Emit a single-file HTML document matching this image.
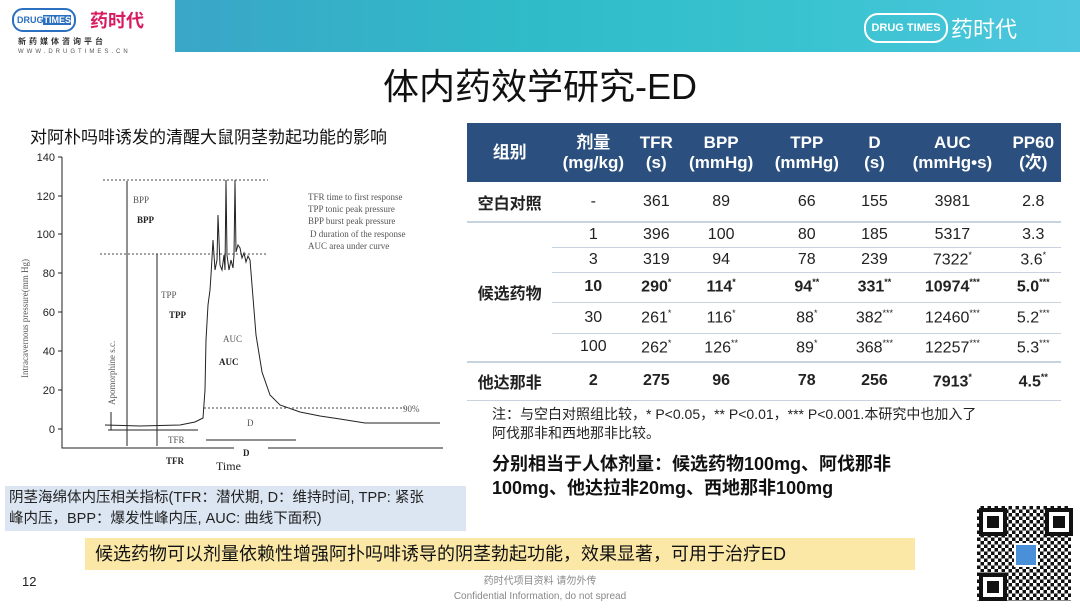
<!DOCTYPE html>
<html><head><meta charset="utf-8"><style>
body{margin:0;width:1080px;height:608px;overflow:hidden;background:#fff;font-family:"Liberation Sans","Noto Sans CJK SC",sans-serif;position:relative}
.a{position:absolute}
table{border-collapse:collapse;position:absolute;left:467px;top:123px;width:594px;font-size:16px;color:#222}
td,th{text-align:center;padding:0}
th{background:#2b4f7e;color:#fff;font-weight:bold;font-size:17px;line-height:20px;height:59px}
sup{font-size:9px}
.b td{font-weight:bold}
</style></head><body>
<div class="a" style="left:175px;top:0;width:905px;height:52px;background:linear-gradient(90deg,#3aa6c8,#2fbcc8 40%,#39c3d0 70%,#4ec6de)"></div>
<div class="a" style="left:12px;top:8px;width:60px;height:20px;border:2px solid #2a6fc0;border-radius:11px;font:bold 9px 'Liberation Sans';color:#2a6fc0;line-height:20px;text-align:center">DRUG<span style="background:#2a6fc0;color:#fff">TIMES</span></div>
<div class="a" style="left:90px;top:7px;font-size:18px;font-weight:bold;color:#d81b60">药时代</div>
<div class="a" style="left:18px;top:36px;font-size:8px;font-weight:bold;letter-spacing:3px;color:#333">新药媒体咨询平台</div>
<div class="a" style="left:18px;top:49px;font-size:6px;letter-spacing:3px;color:#555">WWW.DRUGTIMES.CN</div>
<div class="a" style="left:864px;top:13px;width:80px;height:26px;border:2px solid #fff;border-radius:14px;font:bold 11px 'Liberation Sans';color:#fff;line-height:26px;text-align:center">DRUG TIMES</div>
<div class="a" style="left:951px;top:12px;font-size:22px;color:#fff">药时代</div>
<div class="a" style="left:0;top:62px;width:1080px;text-align:center;font-size:36px;color:#111;line-height:50px">体内药效学研究-ED</div>
<div class="a" style="left:30px;top:123px;font-size:17px;color:#111">对阿朴吗啡诱发的清醒大鼠阴茎勃起功能的影响</div>
<svg class="a" style="left:0;top:140px" width="460" height="340" font-family="Liberation Serif">
<g font-family="Liberation Sans" font-size="11" text-anchor="end" fill="#222">
<text x="55" y="21">140</text><text x="55" y="60">120</text><text x="55" y="98">100</text><text x="55" y="137">80</text><text x="55" y="176">60</text><text x="55" y="215">40</text><text x="55" y="254">20</text><text x="55" y="293">0</text></g>
<g stroke="#222" fill="none" stroke-width="1">
<path d="M62 17V308H234M268 308H443"/>
<path d="M62 17h-4M62 56h-4M62 94h-4M62 133h-4M62 172h-4M62 211h-4M62 250h-4M62 289h-4"/>
<path d="M127 41V306M157 114V306M111 272V290M108 290h90M206 300h90"/>
<path d="M105 285L140 286L180 285L195 282L203 278L205 250L206 200L208 165L210 150L211 135L212 118L213 100L215 130L217 120L218 75L220 125L222 130L224 115L225 130L226 40L227 115L229 130L231 120L233 128L234 115L235 40L236 112L238 105L240 108L242 118L244 113L246 122L248 116L250 120L252 145L256 195L262 232L270 255L280 265L300 272L320 276L340 279L365 283L440 283"/>
</g>
<g stroke="#444" stroke-dasharray="2,2" stroke-width="1"><path d="M103 40H268M100 114H268M204 268H405"/></g>
<g font-size="9" fill="#555"><text x="308" y="60">TFR time to first response</text><text x="308" y="72">TPP tonic peak pressure</text><text x="308" y="84">BPP burst peak pressure</text><text x="310" y="97">D duration of the response</text><text x="308" y="109">AUC area under curve</text>
<text x="133" y="63">BPP</text><text x="161" y="158">TPP</text><text x="223" y="202">AUC</text><text x="168" y="303">TFR</text><text x="247" y="286">D</text><text x="403" y="272">90%</text>
<text transform="translate(28 238) rotate(-90)">Intracavernous pressure(mm Hg)</text>
<text transform="translate(115 265) rotate(-90)">Apomorphine s.c.</text></g>
<g font-size="9" font-weight="bold" fill="#222"><text x="137" y="83">BPP</text><text x="169" y="178">TPP</text><text x="219" y="225">AUC</text><text x="166" y="324">TFR</text><text x="243" y="316">D</text></g>
<text x="216" y="330" font-size="12" fill="#222">Time</text>
</svg>
<table>
<tr><th>组别</th><th>剂量<br>(mg/kg)</th><th>TFR<br>(s)</th><th>BPP<br>(mmHg)</th><th>TPP<br>(mmHg)</th><th>D<br>(s)</th><th>AUC<br>(mmHg•s)</th><th>PP60<br>(次)</th></tr>
<tr style="height:40px;border-bottom:2px solid #c8d3e0"><td style="font-weight:bold">空白对照</td><td>-</td><td>361</td><td>89</td><td>66</td><td>155</td><td>3981</td><td>2.8</td></tr>
<tr style="height:25px;border-bottom:1px solid #c8d3e0"><td rowspan="5" style="font-weight:bold">候选药物</td><td>1</td><td>396</td><td>100</td><td>80</td><td>185</td><td>5317</td><td>3.3</td></tr>
<tr style="height:25px;border-bottom:1px solid #c8d3e0"><td>3</td><td>319</td><td>94</td><td>78</td><td>239</td><td>7322<sup>*</sup></td><td>3.6<sup>*</sup></td></tr>
<tr class="b" style="height:30px;border-bottom:1px solid #c8d3e0"><td>10</td><td>290<sup>*</sup></td><td>114<sup>*</sup></td><td>94<sup>**</sup></td><td>331<sup>**</sup></td><td>10974<sup>***</sup></td><td>5.0<sup>***</sup></td></tr>
<tr style="height:31px;border-bottom:1px solid #c8d3e0"><td>30</td><td>261<sup>*</sup></td><td>116<sup>*</sup></td><td>88<sup>*</sup></td><td>382<sup>***</sup></td><td>12460<sup>***</sup></td><td>5.2<sup>***</sup></td></tr>
<tr style="height:29px;border-bottom:2px solid #c8d3e0"><td>100</td><td>262<sup>*</sup></td><td>126<sup>**</sup></td><td>89<sup>*</sup></td><td>368<sup>***</sup></td><td>12257<sup>***</sup></td><td>5.3<sup>***</sup></td></tr>
<tr class="b" style="height:38px;border-bottom:1px solid #c8d3e0"><td>他达那非</td><td>2</td><td>275</td><td>96</td><td>78</td><td>256</td><td>7913<sup>*</sup></td><td>4.5<sup>**</sup></td></tr>
</table>
<div class="a" style="left:492px;top:405px;width:486px;font-size:14px;line-height:19px;color:#222">注：与空白对照组比较，* P&lt;0.05，** P&lt;0.01，*** P&lt;0.001.本研究中也加入了阿伐那非和西地那非比较。</div>
<div class="a" style="left:492px;top:452px;width:462px;font-size:18px;font-weight:bold;line-height:24px;color:#111">分别相当于人体剂量：候选药物100mg、阿伐那非100mg、他达拉非20mg、西地那非100mg</div>
<div class="a" style="left:5px;top:486px;width:461px;height:45px;background:#dce6f2;font-size:14.5px;line-height:21px;color:#222;padding:2px 30px 2px 4px;box-sizing:border-box">阴茎海绵体内压相关指标(TFR：潜伏期, D：维持时间, TPP: 紧张峰内压，BPP：爆发性峰内压, AUC: 曲线下面积)</div>
<div class="a" style="left:85px;top:538px;width:830px;height:32px;background:#fbe8a6;font-size:18px;line-height:32px;color:#111;padding-left:10px;box-sizing:border-box">候选药物可以剂量依赖性增强阿扑吗啡诱导的阴茎勃起功能，效果显著，可用于治疗ED</div>
<div class="a" style="left:22px;top:574px;font-size:13px;color:#222">12</div>
<div class="a" style="left:0;top:574px;width:1080px;text-align:center;font-size:10px;line-height:15px;color:#888">药时代项目资料 请勿外传<br>Confidential Information, do not spread</div>
<div class="a" style="left:977px;top:506px;width:94px;height:95px;background:repeating-conic-gradient(#111 0 25%,#fff 0 50%) 0 0/7px 7px"></div>
<div class="a" style="left:979px;top:508px;width:20px;height:20px;border:4px solid #111;background:#fff;box-shadow:inset 0 0 0 4px #fff,inset 0 0 0 10px #111"></div>
<div class="a" style="left:1045px;top:508px;width:20px;height:20px;border:4px solid #111;background:#fff;box-shadow:inset 0 0 0 4px #fff,inset 0 0 0 10px #111"></div>
<div class="a" style="left:979px;top:573px;width:20px;height:20px;border:4px solid #111;background:#fff;box-shadow:inset 0 0 0 4px #fff,inset 0 0 0 10px #111"></div>
<div class="a" style="left:1014px;top:543px;width:20px;height:20px;background:#4a90d9;border:2px solid #fff"></div>
</body></html>
